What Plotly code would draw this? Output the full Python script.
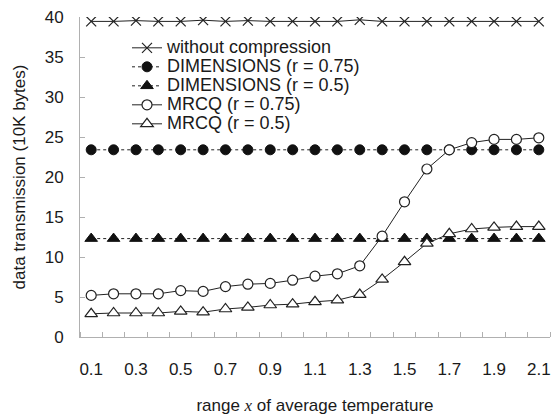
import plotly.graph_objects as go

x_vals = [0.1, 0.2, 0.3, 0.4, 0.5, 0.6, 0.7, 0.8, 0.9, 1.0, 1.1,
          1.2, 1.3, 1.4, 1.5, 1.6, 1.7, 1.8, 1.9, 2.0, 2.1]
tick_labels = ["0.1", "0.3", "0.5", "0.7", "0.9", "1.1", "1.3", "1.5", "1.7", "1.9", "2.1"]
tick_positions = [0.1, 0.3, 0.5, 0.7, 0.9, 1.1, 1.3, 1.5, 1.7, 1.9, 2.1]
series_names = ["without compression", "DIMENSIONS (r = 0.75)", "DIMENSIONS (r = 0.5)",
                "MRCQ (r = 0.75)", "MRCQ (r = 0.5)"]

without_compression = [39.45, 39.45, 39.55, 39.45, 39.45, 39.6, 39.45, 39.55, 39.45, 39.45, 39.45,
                       39.45, 39.65, 39.45, 39.45, 39.45, 39.45, 39.45, 39.45, 39.45, 39.45]
dimensions_075 = [23.4] * 21
dimensions_05 = [12.3] * 21
mrcq_075 = [5.2, 5.4, 5.4, 5.4, 5.8, 5.7, 6.3, 6.6, 6.7, 7.1, 7.6,
            7.9, 8.9, 12.6, 16.9, 21.0, 23.4, 24.3, 24.7, 24.7, 24.9]
mrcq_05 = [2.9, 3.0, 3.0, 3.0, 3.2, 3.1, 3.5, 3.7, 4.0, 4.1, 4.4,
           4.6, 5.3, 7.2, 9.4, 11.7, 12.9, 13.5, 13.7, 13.8, 13.8]

FONT = "Liberation Sans, Arial, sans-serif"
LC = "#222222"


def lg(name):
    return '<span style="font-size:18px">' + name + '</span>'


fig = go.Figure()
fig.add_trace(go.Scatter(x=x_vals, y=without_compression, mode="lines+markers",
                         name=lg(series_names[0]),
                         line=dict(color=LC, width=1),
                         marker=dict(symbol="x-thin", size=10, line=dict(color=LC, width=1.2))))
fig.add_trace(go.Scatter(x=x_vals, y=dimensions_075, mode="lines+markers",
                         name=lg(series_names[1]),
                         line=dict(color=LC, width=1, dash="dot"),
                         marker=dict(symbol="circle", size=10, color="#111111",
                                     line=dict(color="#111111", width=1))))
fig.add_trace(go.Scatter(x=x_vals, y=dimensions_05, mode="lines+markers",
                         name=lg(series_names[2]),
                         line=dict(color=LC, width=1, dash="dot"),
                         marker=dict(symbol="triangle-up", size=11, color="#111111",
                                     line=dict(color="#111111", width=1))))
fig.add_trace(go.Scatter(x=x_vals, y=mrcq_075, mode="lines+markers",
                         name=lg(series_names[3]),
                         line=dict(color=LC, width=1),
                         marker=dict(symbol="circle", size=10, color="white",
                                     line=dict(color=LC, width=1.2))))
fig.add_trace(go.Scatter(x=x_vals, y=mrcq_05, mode="lines+markers",
                         name=lg(series_names[4]),
                         line=dict(color=LC, width=1),
                         marker=dict(symbol="triangle-up", size=11, color="white",
                                     line=dict(color=LC, width=1.2))))

fig.update_layout(
    width=558, height=415,
    margin=dict(l=80, r=8, t=17, b=78),
    plot_bgcolor="white", paper_bgcolor="white",
    font=dict(family=FONT, size=17, color="#1a1a1a"),
    showlegend=True,
    legend=dict(x=0.1, y=0.949, xanchor="left", yanchor="top",
                bgcolor="rgba(0,0,0,0)", font=dict(size=12, family=FONT),
                tracegroupgap=0),
    xaxis=dict(
        range=[0.05, 2.15], automargin=False,
        tickmode="array", tickvals=tick_positions, ticktext=tick_labels,
        ticks="", showgrid=False, zeroline=False,
        showline=True, linecolor="#b0b0b0", linewidth=1,
        ticklabelstandoff=17,
        minor=dict(tick0=0.05, dtick=0.1, ticks="inside", ticklen=5,
                   tickcolor="#b0b0b0", showgrid=False),
        title=dict(text="range <span style=\"font-family:'Liberation Serif';font-style:italic\">x</span> of average temperature",
                   standoff=22, font=dict(size=17)),
    ),
    yaxis=dict(
        range=[0, 40], tickvals=[0, 5, 10, 15, 20, 25, 30, 35, 40], automargin=False,
        ticks="inside", ticklen=5, tickcolor="#b0b0b0",
        showgrid=False, zeroline=False,
        showline=True, linecolor="#b0b0b0", linewidth=1,
        ticklabelstandoff=12,
        title=dict(text="data transmission (10K bytes)", standoff=14, font=dict(size=17)),
    ),
)

fig.write_html("out.html")
